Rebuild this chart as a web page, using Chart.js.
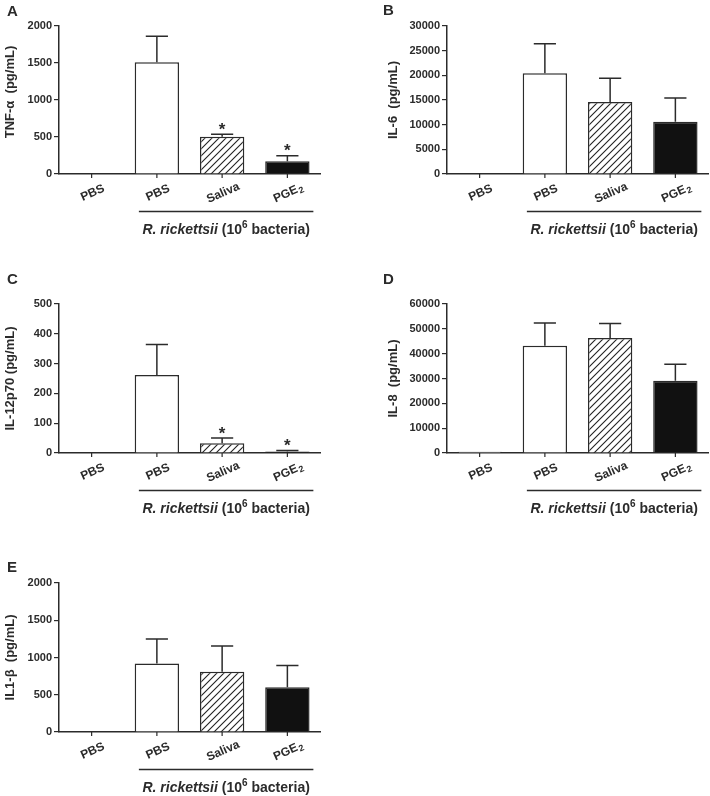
<!DOCTYPE html>
<html><head><meta charset="utf-8">
<script src="https://cdn.jsdelivr.net/npm/chart.js@4.4.1/dist/chart.umd.min.js"></script>
<style>
html,body{margin:0;padding:0;background:#fff;width:710px;height:796px;overflow:hidden;}
canvas{position:absolute;}
</style></head><body>
<canvas id="cA"></canvas><canvas id="cB"></canvas><canvas id="cC"></canvas><canvas id="cD"></canvas><canvas id="cE"></canvas>
<script>
// ---- data ----
const categories = ['PBS', 'PBS', 'Saliva', 'PGE₂'];
const groupLabel = ['R. rickettsii', ' (10', '6', ' bacteria)'];
const panelLetters = ['A', 'B', 'C', 'D', 'E'];
const yTitles = ['TNF-α  (pg/mL)', 'IL-6  (pg/mL)', 'IL-12p70 (pg/mL)', 'IL-8  (pg/mL)', 'IL1-β  (pg/mL)'];

const tnfMean = [0, 1510, 505, 172];
const tnfSem  = [0, 350, 31, 75];
const il6Mean = [0, 20400, 14600, 10600];
const il6Sem  = [0, 6000, 4800, 4800];
const il12Mean = [0, 262, 33, 5];
const il12Sem  = [0, 102, 17, 3];
const il8Mean = [500, 43200, 46300, 29100];
const il8Sem  = [0, 9100, 5800, 6600];
const il1bMean = [0, 920, 808, 599];
const il1bSem  = [0, 330, 345, 295];

const yMax = [2000, 30000, 500, 60000, 2000];
const yStep = [500, 5000, 100, 10000, 500];
const starsA = [false, false, true, true];
const starsC = [false, false, true, true];
const starsNone = [false, false, false, false];

// ---- layout ----
const FONT = '"Liberation Sans", Arial, sans-serif';
const INK = '#2b2b2b';
const layouts = [
  {id:'cA', cx:0,   cy:0,   w:355, h:265, L:59,  R:320, T:26,  B:174, tx:10,  ty:-8, lx:7,   ly:16},
  {id:'cB', cx:350, cy:0,   w:360, h:265, L:447, R:708, T:26,  B:174, tx:393, ty:0,  lx:383, ly:15},
  {id:'cC', cx:0,   cy:270, w:355, h:265, L:59,  R:320, T:304, B:453, tx:10,  ty:0,  lx:7,   ly:284},
  {id:'cD', cx:350, cy:270, w:360, h:265, L:447, R:708, T:304, B:453, tx:393, ty:0,  lx:383, ly:284},
  {id:'cE', cx:0,   cy:540, w:355, h:256, L:59,  R:320, T:583, B:732, tx:10,  ty:0,  lx:7,   ly:572}
];
const means = [tnfMean, il6Mean, il12Mean, il8Mean, il1bMean];
const sems = [tnfSem, il6Sem, il12Sem, il8Sem, il1bSem];
const stars = [starsA, starsNone, starsC, starsNone, starsNone];

function hatch() {
  const s = 7, c = document.createElement('canvas');
  c.width = s; c.height = s;
  const g = c.getContext('2d');
  g.fillStyle = '#fff'; g.fillRect(0, 0, s, s);
  g.strokeStyle = '#222'; g.lineWidth = 1.1;
  g.beginPath();
  g.moveTo(-1, s + 1); g.lineTo(s + 1, -1);
  g.moveTo(-2, 2); g.lineTo(2, -2);
  g.moveTo(s - 2, s + 2); g.lineTo(s + 2, s - 2);
  g.stroke();
  return g.createPattern(c, 'repeat');
}

function drawSubText(ctx, text, x, y, size) {
  const parts = text.split('₂');
  ctx.font = 'bold ' + size + 'px ' + FONT;
  const w1 = ctx.measureText(parts[0]).width;
  let w2 = 0;
  if (parts.length > 1) { ctx.font = 'bold ' + (size - 3) + 'px ' + FONT; w2 = ctx.measureText('2').width + 1; }
  let sx = x - (w1 + w2) / 2;
  ctx.textAlign = 'left'; ctx.textBaseline = 'middle';
  ctx.font = 'bold ' + size + 'px ' + FONT;
  ctx.fillText(parts[0], sx, y);
  if (parts.length > 1) {
    ctx.font = 'bold ' + (size - 3) + 'px ' + FONT;
    ctx.fillText('2', sx + w1 + 1, y + 3);
  }
}

function makePanel(i) {
  const lay = layouts[i];
  const cv = document.getElementById(lay.id);
  cv.style.left = lay.cx + 'px'; cv.style.top = lay.cy + 'px';
  cv.width = lay.w; cv.height = lay.h;
  cv.style.width = lay.w + 'px'; cv.style.height = lay.h + 'px';
  const mean = means[i], sem = sems[i], st = stars[i];

  const decor = {
    id: 'decor' + i,
    afterDatasetsDraw(chart) {
      const ctx = chart.ctx, ys = chart.scales.y;
      const meta = chart.getDatasetMeta(0);
      ctx.save();
      ctx.strokeStyle = INK; ctx.fillStyle = INK; ctx.lineWidth = 1.5;
      meta.data.forEach((bar, k) => {
        if (!sem[k]) return;
        const x = bar.x, y0 = ys.getPixelForValue(mean[k]), y1 = ys.getPixelForValue(mean[k] + sem[k]);
        const cap = bar.width * 0.25;
        ctx.beginPath();
        ctx.moveTo(x, y0); ctx.lineTo(x, y1);
        ctx.moveTo(x - cap, y1); ctx.lineTo(x + cap, y1);
        ctx.stroke();
      });
      meta.data.forEach((bar, k) => {
        if (!st[k]) return;
        const y1 = ys.getPixelForValue(mean[k] + sem[k]);
        ctx.font = 'bold 17px ' + FONT;
        ctx.textAlign = 'center'; ctx.textBaseline = 'middle';
        ctx.fillText('*', bar.x, y1 - 4);
      });
      ctx.restore();
    },
    afterDraw(chart) {
      const ctx = chart.ctx, xs = chart.scales.x, ca = chart.chartArea;
      ctx.save();
      ctx.fillStyle = INK; ctx.strokeStyle = INK;
      ctx.lineWidth = 1.2;
      categories.forEach((c, k) => {
        const x = xs.getPixelForValue(k);
        ctx.beginPath(); ctx.moveTo(x, ca.bottom); ctx.lineTo(x, ca.bottom + 4); ctx.stroke();
      });
      categories.forEach((c, k) => {
        const x = xs.getPixelForValue(k);
        ctx.save();
        ctx.translate(x + 1, ca.bottom + 19);
        ctx.rotate(-24 * Math.PI / 180);
        drawSubText(ctx, c, 0, 0, 12);
        ctx.restore();
      });
      const x1 = xs.getPixelForValue(1) - 18, x3 = xs.getPixelForValue(3) + 26;
      ctx.lineWidth = 1.3;
      ctx.beginPath(); ctx.moveTo(x1, ca.bottom + 37.5); ctx.lineTo(x3, ca.bottom + 37.5); ctx.stroke();
      const segs = [
        {t: groupLabel[0], f: 'italic bold 14px ' + FONT, dy: 0},
        {t: groupLabel[1], f: 'bold 14px ' + FONT, dy: 0},
        {t: groupLabel[2], f: 'bold 10px ' + FONT, dy: -6},
        {t: groupLabel[3], f: 'bold 14px ' + FONT, dy: 0}
      ];
      let tw = 0;
      segs.forEach(s => { ctx.font = s.f; s.w = ctx.measureText(s.t).width; tw += s.w; });
      let sx = (x1 + x3) / 2 - tw / 2;
      const by = ca.bottom + 60;
      ctx.textAlign = 'left'; ctx.textBaseline = 'alphabetic';
      segs.forEach(s => { ctx.font = s.f; ctx.fillText(s.t, sx, by + s.dy); sx += s.w; });
      ctx.save();
      ctx.translate(lay.tx - lay.cx, (ca.top + ca.bottom) / 2 + lay.ty);
      ctx.rotate(-Math.PI / 2);
      ctx.font = 'bold 13px ' + FONT;
      ctx.textAlign = 'center'; ctx.textBaseline = 'middle';
      ctx.fillText(yTitles[i], 0, 0);
      ctx.restore();
      ctx.font = 'bold 15px ' + FONT;
      ctx.textAlign = 'left'; ctx.textBaseline = 'alphabetic';
      ctx.fillText(panelLetters[i], lay.lx - lay.cx, lay.ly - lay.cy);
      ctx.restore();
    }
  };

  new Chart(cv, {
    type: 'bar',
    data: {
      labels: categories,
      datasets: [{
        data: mean,
        backgroundColor: ['#ffffff', '#ffffff', hatch(), '#111111'],
        borderColor: INK,
        borderWidth: 1.5,
        barPercentage: 0.68,
        categoryPercentage: 1
      }]
    },
    options: {
      responsive: false,
      animation: false,
      devicePixelRatio: 1,
      layout: { padding: { left: 0, right: (lay.cx + lay.w) - lay.R, top: lay.T - lay.cy, bottom: 0 } },
      plugins: { legend: { display: false }, tooltip: { enabled: false } },
      scales: {
        x: {
          grid: { display: false },
          border: { display: true, color: INK, width: 1.5 },
          ticks: { display: false },
          afterFit(s) { s.height = (lay.cy + lay.h) - lay.B; }
        },
        y: {
          min: 0, max: yMax[i],
          grid: { display: true, drawOnChartArea: false, drawTicks: true, tickLength: 5, color: INK, lineWidth: 1.2 },
          border: { display: true, color: INK, width: 1.5 },
          ticks: { stepSize: yStep[i], padding: 2, color: INK, font: { family: FONT, size: 11, weight: 'bold' },
                   callback: v => String(v) },
          afterFit(s) { s.width = lay.L - lay.cx; }
        }
      }
    },
    plugins: [decor]
  });
}
for (let i = 0; i < 5; i++) makePanel(i);
</script>
</body></html>
